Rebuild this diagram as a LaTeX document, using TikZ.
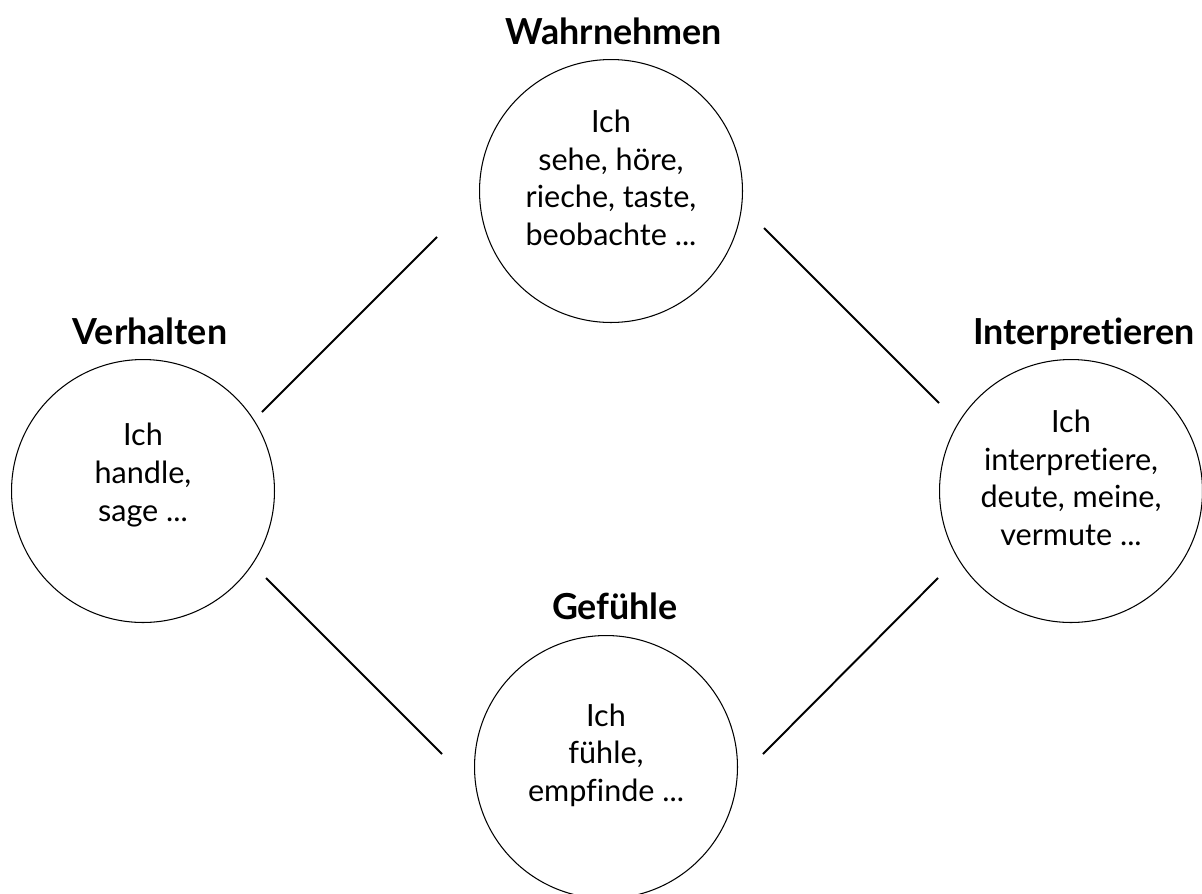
\documentclass[tikz,border=0pt]{standalone}
\usepackage{fontspec}
\setmainfont{Lato}[RawFeature=-liga]
\usetikzlibrary{positioning}

\tikzset{
  phase/.style = {circle, draw, line width=0.6pt, inner sep=0pt, minimum size=5.26cm},
  says/.style  = {align=center, font=\fontsize{17.4}{21.4}\selectfont},
  title/.style = {font=\fontsize{20.4}{24}\selectfont\bfseries, anchor=base},
  link/.style  = {line width=1.1pt}
}

\begin{document}
\begin{tikzpicture}[x=0.02cm, y=-0.02cm]
  \useasboundingbox (0,0) rectangle (1202,893);
  \clip (0,0) rectangle (1202,893);

  \node[phase] (wahrnehmen) at (611,191) {};
  \node[phase] (verhalten) at (143,491) {};
  \node[phase] (interpretieren) at (1071,491) {};
  \node[phase] (gefuehle) at (606,767) {};

  \node[says] (wahrnehmen-text) at ([yshift=0.26cm]wahrnehmen.center)
    {Ich\\sehe, höre,\\rieche, taste,\\beobachte ...};
  \node[says] (verhalten-text) at ([yshift=0.32cm]verhalten.center)
    {Ich\\handle,\\sage ...};
  \node[says] (interpretieren-text) at ([yshift=0.26cm]interpretieren.center)
    {Ich\\interpretiere,\\deute, meine,\\vermute ...};
  \node[says] (gefuehle-text) at ([yshift=0.24cm]gefuehle.center)
    {Ich\\fühle,\\empfinde ...};

  \node[above=0.30cm of wahrnehmen, title, xshift=0.06cm] (wahrnehmen-title) {Wahrnehmen};
  \node[above=0.30cm of verhalten, title, xshift=0.14cm] (verhalten-title) {Verhalten};
  \node[above=0.30cm of interpretieren, title, xshift=0.26cm] (interpretieren-title) {Interpretieren};
  \node[above=0.32cm of gefuehle, title, xshift=0.18cm] (gefuehle-title) {Gefühle};

  \coordinate (vw-a) at (262,412);
  \coordinate (vw-b) at (437,237);
  \coordinate (wi-a) at (764,228);
  \coordinate (wi-b) at (939,403);
  \coordinate (ig-a) at (938,578);
  \coordinate (ig-b) at (763,754);
  \coordinate (gv-a) at (442,754);
  \coordinate (gv-b) at (266,578);

  \draw[link] (vw-a) -- (vw-b);
  \draw[link] (wi-a) -- (wi-b);
  \draw[link] (ig-a) -- (ig-b);
  \draw[link] (gv-a) -- (gv-b);
\end{tikzpicture}
\end{document}
